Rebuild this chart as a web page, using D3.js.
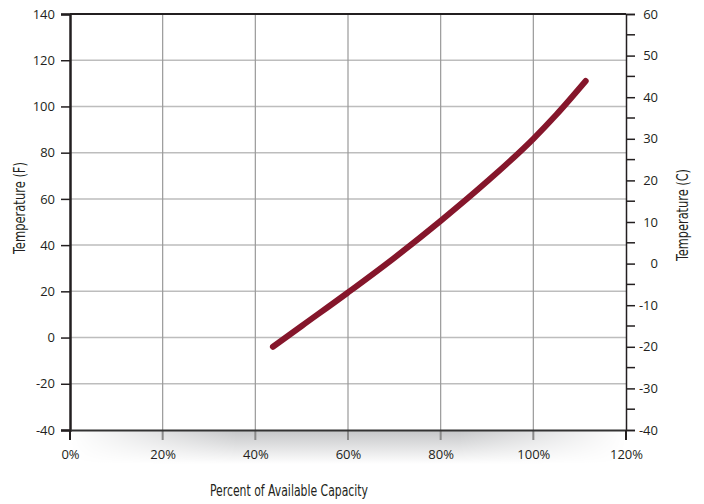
<!DOCTYPE html>
<html>
<head>
<meta charset="utf-8">
<script src="https://cdn.jsdelivr.net/npm/d3@7"></script>
<style>
body { margin: 0; background: #fff; }
text { font-family: "DejaVu Sans Condensed", "DejaVu Sans", sans-serif; fill: #231f20; }
</style>
</head>
<body>
<svg id="chart" width="704" height="504"></svg>
<script>
// Curve values: capacity (%) against temperature (F).
var capacity = [43.8, 50, 60, 70, 80, 90, 100, 105, 111.3];
var tempF = [-4, 5, 19.5, 34.5, 50.5, 67.5, 86, 96.5, 111];

// Tick values for the three axes.
var xTicks = [0, 20, 40, 60, 80, 100, 120];
var fTicks = [-40, -20, 0, 20, 40, 60, 80, 100, 120, 140];
var cTicks = [-40, -30, -20, -10, 0, 10, 20, 30, 40, 50, 60];
var cMinor = [-35, -25, -15, -5, 5, 15, 25, 35, 45, 55];

var svg = d3.select("#chart");
// plot box (note: "top" is taken by window.top, so use a prefix)
var pLeft = 70, pRight = 626, pTop = 14, pBottom = 430;

var x = d3.scaleLinear().domain([0, 120]).range([pLeft, pRight]);
var yF = d3.scaleLinear().domain([-40, 140]).range([pBottom, pTop]);
var yC = d3.scaleLinear().domain([-40, 60]).range([pBottom, pTop]);

// plain hyphen for negatives, like the reference
var plain = function(d){ return String(d); };

// Soft shadow under the plot.
var defs = svg.append("defs");
var vg = defs.append("linearGradient").attr("id", "shadeV")
    .attr("x1", 0).attr("y1", 0).attr("x2", 0).attr("y2", 1);
vg.append("stop").attr("offset", "0%").attr("stop-color", "#c4c5c7");
vg.append("stop").attr("offset", "100%").attr("stop-color", "#fff");
var hg = defs.append("linearGradient").attr("id", "shadeH");
hg.append("stop").attr("offset", "0%").attr("stop-color", "#000");
hg.append("stop").attr("offset", "30%").attr("stop-color", "#fff");
hg.append("stop").attr("offset", "70%").attr("stop-color", "#fff");
hg.append("stop").attr("offset", "100%").attr("stop-color", "#000");
defs.append("mask").attr("id", "shadeMask")
    .append("rect").attr("x", pLeft).attr("y", pBottom).attr("width", pRight - pLeft).attr("height", 34)
    .attr("fill", "url(#shadeH)");
svg.append("rect")
    .attr("x", pLeft).attr("y", pBottom).attr("width", pRight - pLeft).attr("height", 34)
    .attr("fill", "url(#shadeV)")
    .attr("mask", "url(#shadeMask)");

// Gridlines.
svg.append("g").selectAll("line")
    .data(fTicks.slice(1, -1))
    .enter().append("line")
    .attr("x1", pLeft).attr("x2", pRight)
    .attr("y1", function(d){ return yF(d); })
    .attr("y2", function(d){ return yF(d); })
    .attr("stroke", "#bdbdbd").attr("stroke-width", 1.5);

svg.append("g").selectAll("line")
    .data(xTicks.slice(1, -1))
    .enter().append("line")
    .attr("x1", function(d){ return x(d); })
    .attr("x2", function(d){ return x(d); })
    .attr("y1", pTop).attr("y2", pBottom)
    .attr("stroke", "#999").attr("stroke-width", 1.2);

// Thicker gray stubs under the x axis.
svg.append("g").selectAll("line")
    .data(xTicks.slice(1, -1))
    .enter().append("line")
    .attr("x1", function(d){ return x(d); })
    .attr("x2", function(d){ return x(d); })
    .attr("y1", pBottom).attr("y2", pBottom + 10)
    .attr("stroke", "#8a8a8a").attr("stroke-width", 2);

// Left axis (F).
var axL = svg.append("g").attr("transform", "translate(" + pLeft + ",0)")
    .call(d3.axisLeft(yF).tickValues(fTicks).tickFormat(plain).tickSize(9).tickPadding(6));
axL.select(".domain").attr("stroke", "#231f20").attr("stroke-width", 2.5);
axL.selectAll(".tick line").attr("stroke", "#231f20").attr("stroke-width", 1.5);
axL.selectAll(".tick text").attr("font-size", 13).style("font-family", "'Open Sans', sans-serif");

// Right axis (C) with minor ticks.
var axR = svg.append("g").attr("transform", "translate(" + pRight + ",0)")
    .call(d3.axisRight(yC).tickValues(cTicks).tickFormat(plain).tickSize(9).tickPadding(14));
axR.select(".domain").attr("stroke", "#231f20").attr("stroke-width", 1.5);
axR.selectAll(".tick line").attr("stroke", "#231f20").attr("stroke-width", 1.5);
axR.selectAll(".tick text").attr("font-size", 13).attr("text-anchor", "end")
    .attr("x", 32).style("font-family", "'Open Sans', sans-serif");
axR.append("g").selectAll("line")
    .data(cMinor)
    .enter().append("line")
    .attr("x1", 0).attr("x2", 9)
    .attr("y1", function(d){ return yC(d); })
    .attr("y2", function(d){ return yC(d); })
    .attr("stroke", "#231f20").attr("stroke-width", 1.5);

// Top border.
svg.append("line")
    .attr("x1", pLeft).attr("x2", pRight).attr("y1", pTop).attr("y2", pTop)
    .attr("stroke", "#231f20").attr("stroke-width", 2);

// Bottom axis.
var axB = svg.append("g").attr("transform", "translate(0," + pBottom + ")")
    .call(d3.axisBottom(x).tickValues(xTicks).tickSize(0).tickPadding(20)
        .tickFormat(function(d){ return d + "%"; }));
axB.select(".domain").attr("stroke", "#333").attr("stroke-width", 2);
axB.selectAll(".tick text").attr("font-size", 13).style("font-family", "'Open Sans', sans-serif");
svg.selectAll("line.edge")
    .data([0, 120])
    .enter().append("line")
    .attr("class", "edge")
    .attr("x1", function(d){ return x(d); })
    .attr("x2", function(d){ return x(d); })
    .attr("y1", pBottom).attr("y2", pBottom + 10)
    .attr("stroke", "#231f20").attr("stroke-width", 2);

// The capacity curve.
var pts = capacity.map(function(c, i){ return [c, tempF[i]]; });
var line = d3.line()
    .x(function(d){ return x(d[0]); })
    .y(function(d){ return yF(d[1]); })
    .curve(d3.curveMonotoneX);
svg.append("path")
    .datum(pts)
    .attr("d", line)
    .attr("fill", "none")
    .attr("stroke", "#85162b")
    .attr("stroke-width", 6)
    .attr("stroke-linecap", "round");

// Axis titles (squeezed to the condensed widths of the reference).
svg.append("text")
    .attr("x", 289).attr("y", 496)
    .attr("text-anchor", "middle").attr("font-size", 15)
    .attr("textLength", 158).attr("lengthAdjust", "spacingAndGlyphs")
    .text("Percent of Available Capacity");
svg.append("text")
    .attr("transform", "translate(25,208) rotate(-90)")
    .attr("text-anchor", "middle").attr("font-size", 15)
    .attr("textLength", 92).attr("lengthAdjust", "spacingAndGlyphs")
    .text("Temperature (F)");
svg.append("text")
    .attr("transform", "translate(688,215) rotate(-90)")
    .attr("text-anchor", "middle").attr("font-size", 15)
    .attr("textLength", 92).attr("lengthAdjust", "spacingAndGlyphs")
    .text("Temperature (C)");
</script>
</body>
</html>
